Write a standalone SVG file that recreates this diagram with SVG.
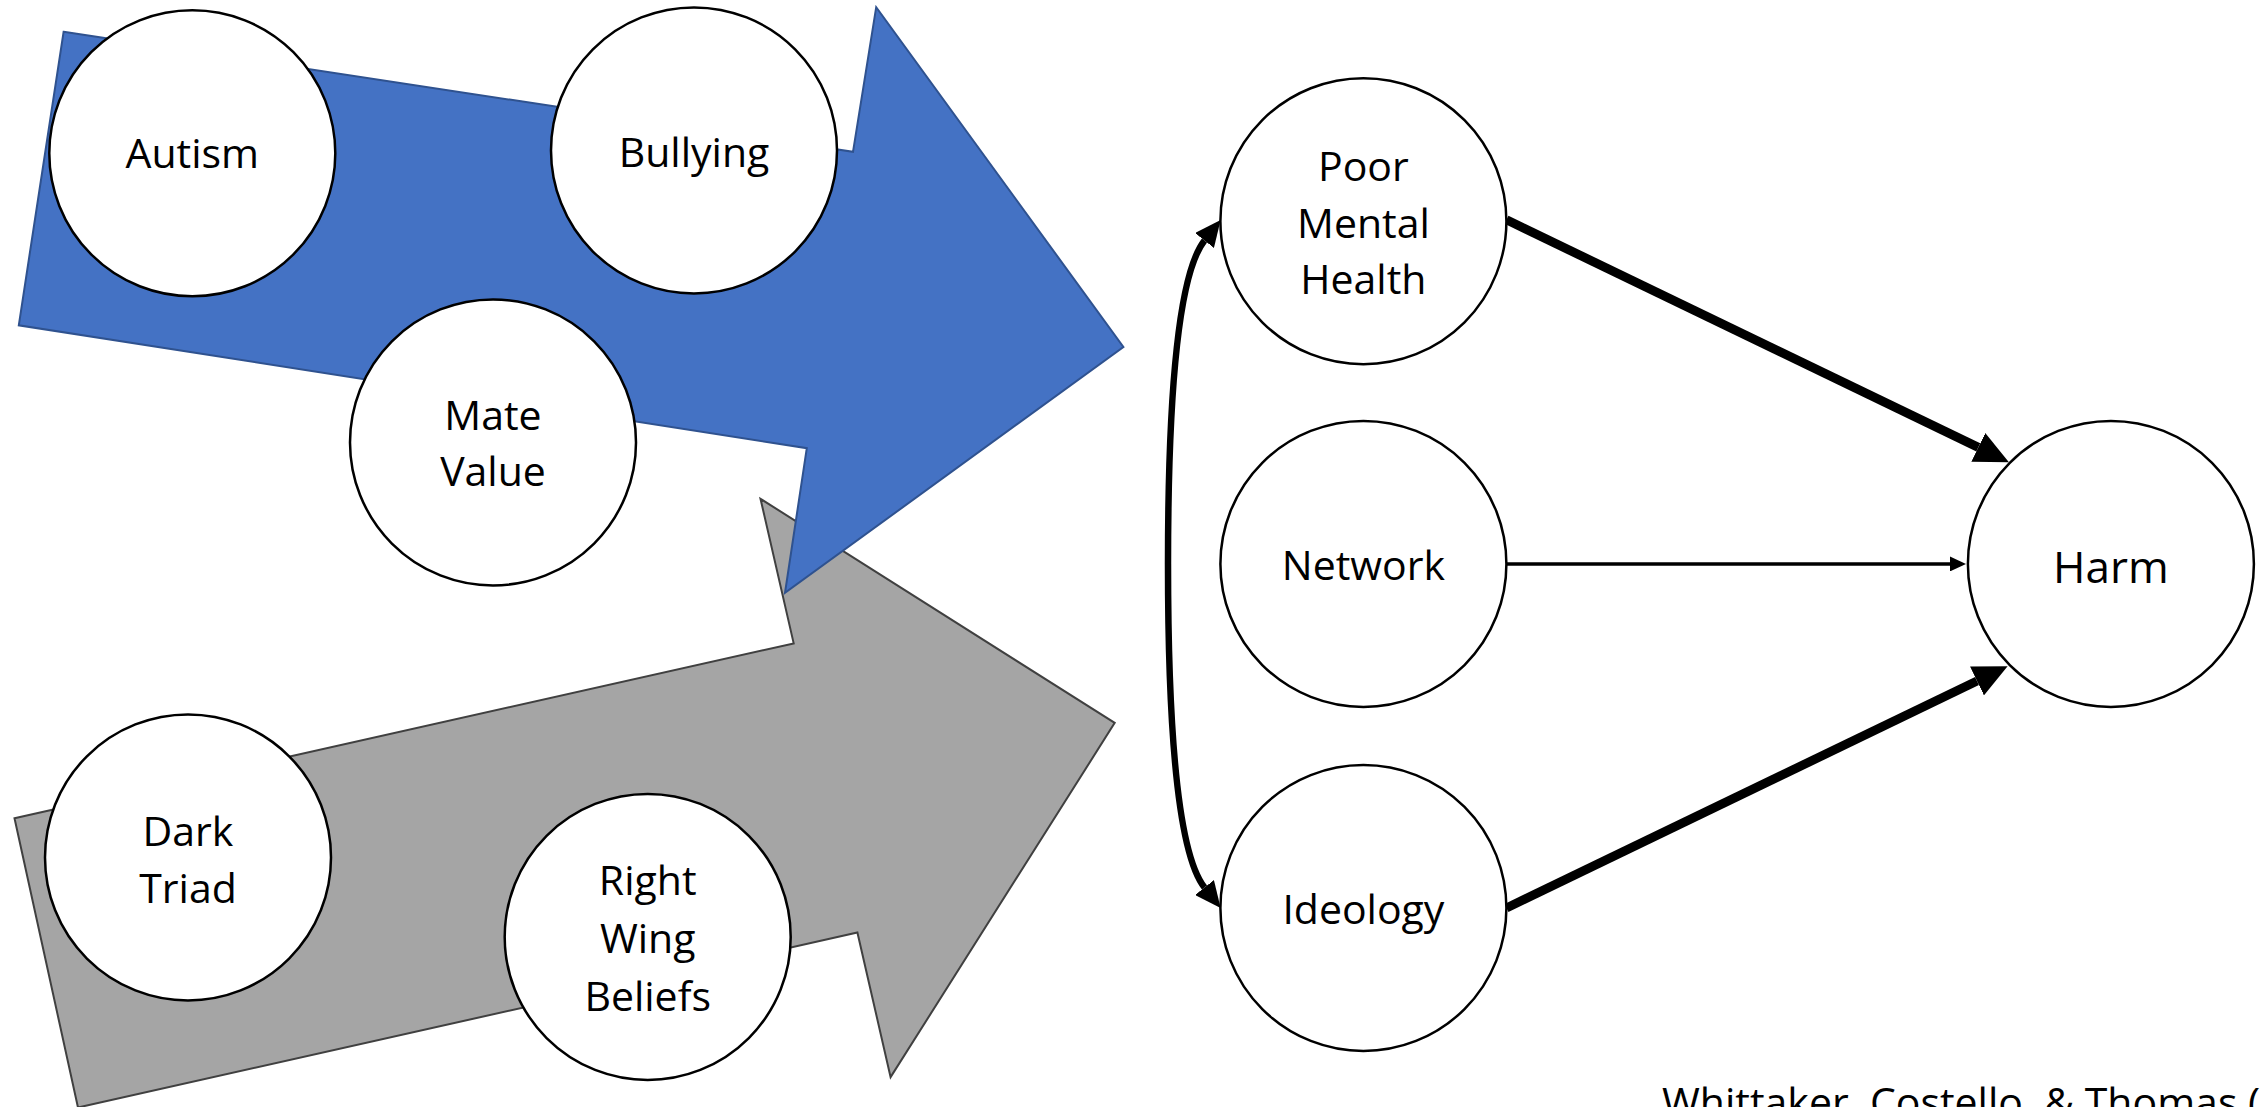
<svg xmlns="http://www.w3.org/2000/svg" width="2267" height="1107" viewBox="0 0 2267 1107">
<style>
  .node circle { fill: #ffffff; stroke: #000000; stroke-width: 2.5; }
  .node text, .cite { font-family: "Open Sans", "Liberation Sans", sans-serif; font-size: 41px; fill: #000000; text-anchor: middle; }
  .cite { text-anchor: start; }
  .thick { stroke: #000; stroke-width: 9; fill: none; }
  .thin { stroke: #000; stroke-width: 3.5; fill: none; }
  .curve { stroke: #000; stroke-width: 6.5; fill: none; }
</style>
<defs>
  <marker id="headThick" markerUnits="userSpaceOnUse" markerWidth="34" markerHeight="32" refX="0" refY="16" orient="auto">
    <path d="M0,0 L34,16 L0,32 z" fill="#000"/>
  </marker>
  <marker id="headThin" markerUnits="userSpaceOnUse" markerWidth="16" markerHeight="15" refX="0" refY="7.5" orient="auto">
    <path d="M0,0 L16,7.5 L0,15 z" fill="#000"/>
  </marker>
  <marker id="headCurve" markerUnits="userSpaceOnUse" markerWidth="26" markerHeight="24" refX="0" refY="12" orient="auto-start-reverse">
    <path d="M0,0 L26,12 L0,24 z" fill="#000"/>
  </marker>
</defs>
<rect width="2267" height="1107" fill="#ffffff"/>

<g id="arrow-gray">
  <polygon points="14.5,818.3 793.7,643.4 760.5,498.8 1114.7,722.9 890.6,1077.1 857.4,932.5 78,1107.5" fill="#A5A5A5" stroke="#404040" stroke-width="2"/>
</g>
<g id="arrow-blue">
  <polygon points="63.6,31.8 853,151.8 876.2,7.2 1123.4,347 785,592.8 806.8,448.2 18.8,325.3" fill="#4472C4" stroke="#2F528F" stroke-width="2"/>
</g>

<g id="node-autism" class="node">
  <circle cx="192.3" cy="153.3" r="143"/>
  <text x="192.3" y="168">Autism</text>
</g>
<g id="node-bullying" class="node">
  <circle cx="694" cy="150.4" r="143"/>
  <text x="694" y="166.5">Bullying</text>
</g>
<g id="node-mate-value" class="node">
  <circle cx="493" cy="442.4" r="143"/>
  <text x="493" y="430">Mate</text>
  <text x="493" y="486">Value</text>
</g>
<g id="node-dark-triad" class="node">
  <circle cx="188" cy="857.4" r="143"/>
  <text x="188" y="846">Dark</text>
  <text x="188" y="902.5">Triad</text>
</g>
<g id="node-right-wing" class="node">
  <circle cx="647.7" cy="936.9" r="143"/>
  <text x="647.7" y="895">Right</text>
  <text x="647.7" y="953">Wing</text>
  <text x="647.7" y="1011">Beliefs</text>
</g>

<g id="connectors">
  <line class="thick" x1="1506.5" y1="219.8" x2="1978.3" y2="447.4" marker-end="url(#headThick)"/>
  <line class="thin" x1="1506.5" y1="563.9" x2="1950" y2="563.9" marker-end="url(#headThin)"/>
  <line class="thick" x1="1506.5" y1="908" x2="1977" y2="681" marker-end="url(#headThick)"/>
  <path class="curve" d="M1204.5,240.5 C1178,274 1168,400 1168,564 C1168,728 1178,854 1204.5,887.5" marker-start="url(#headCurve)" marker-end="url(#headCurve)"/>
</g>

<g id="node-poor-mental-health" class="node">
  <circle cx="1363.4" cy="221.2" r="143"/>
  <text x="1363.4" y="181">Poor</text>
  <text x="1363.4" y="237.5">Mental</text>
  <text x="1363.4" y="294">Health</text>
</g>
<g id="node-network" class="node">
  <circle cx="1363.4" cy="563.9" r="143"/>
  <text x="1363.4" y="580">Network</text>
</g>
<g id="node-ideology" class="node">
  <circle cx="1363.4" cy="908" r="143"/>
  <text x="1363.4" y="924">Ideology</text>
</g>
<g id="node-harm" class="node">
  <circle cx="2110.9" cy="563.9" r="143"/>
  <text x="2110.9" y="583" style="font-size:44px">Harm</text>
</g>

<text class="cite" x="1662" y="1117">Whittaker, Costello, &amp; Thomas (</text>
</svg>
